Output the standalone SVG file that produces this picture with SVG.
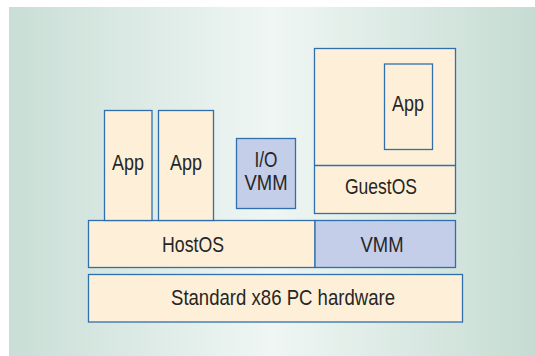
<svg xmlns="http://www.w3.org/2000/svg" width="535" height="356" viewBox="0 0 535 356">
  <defs>
    <linearGradient id="bg" x1="9" y1="0" x2="535" y2="0" gradientUnits="userSpaceOnUse">
      <stop offset="0" stop-color="#c9ded6"/>
      <stop offset="0.5" stop-color="#eff6f3"/>
      <stop offset="1" stop-color="#c6dcd3"/>
    </linearGradient>
  </defs>
  <style>
    .box { fill: #fef0d8; stroke: #2f6fae; stroke-width: 1.3; }
    .vmm { fill: #c4cee8; stroke: #2f6fae; stroke-width: 1.3; }
    .line { stroke: #2f6fae; stroke-width: 1.3; fill: none; }
    .t { font-family: "Liberation Sans", Arial, sans-serif; font-size: 22.5px; fill: #262626; text-anchor: middle; }
  </style>
  <rect x="0" y="0" width="535" height="356" fill="#ffffff"/>
  <rect x="9" y="7" width="526" height="349" fill="url(#bg)"/>

  <g id="hardware">
    <rect class="box" x="88.5" y="274.5" width="374" height="47.5"/>
    <text class="t" x="283" y="304.5" textLength="224" lengthAdjust="spacingAndGlyphs">Standard x86 PC hardware</text>
  </g>
  <g id="hostos">
    <rect class="box" x="88.5" y="220.5" width="226.5" height="47"/>
    <text class="t" x="193" y="251.5" textLength="62" lengthAdjust="spacingAndGlyphs">HostOS</text>
  </g>
  <g id="vmm">
    <rect class="vmm" x="315" y="220.5" width="140.5" height="47"/>
    <text class="t" x="382" y="251.5" textLength="43" lengthAdjust="spacingAndGlyphs">VMM</text>
  </g>
  <g id="app1">
    <rect class="box" x="104.5" y="110.5" width="47.5" height="110"/>
    <text class="t" x="128" y="169.5" textLength="32" lengthAdjust="spacingAndGlyphs">App</text>
  </g>
  <g id="app2">
    <rect class="box" x="158.5" y="110.5" width="55" height="110"/>
    <text class="t" x="186" y="169.5" textLength="32" lengthAdjust="spacingAndGlyphs">App</text>
  </g>
  <g id="iovmm">
    <rect class="vmm" x="236.5" y="138.5" width="59" height="70"/>
    <text class="t" x="266" y="167" textLength="23" lengthAdjust="spacingAndGlyphs">I/O</text>
    <text class="t" x="266" y="189.5" textLength="43" lengthAdjust="spacingAndGlyphs">VMM</text>
  </g>
  <g id="guestos">
    <rect class="box" x="314.5" y="48.5" width="141" height="165"/>
    <line class="line" x1="314.5" y1="165.5" x2="455.5" y2="165.5"/>
    <text class="t" x="381" y="193.5" textLength="72" lengthAdjust="spacingAndGlyphs">GuestOS</text>
  </g>
  <g id="guestapp">
    <rect class="box" x="384.5" y="64" width="48" height="85.5"/>
    <text class="t" x="408" y="110.5" textLength="32" lengthAdjust="spacingAndGlyphs">App</text>
  </g>
  <g id="connectors"></g>
</svg>
